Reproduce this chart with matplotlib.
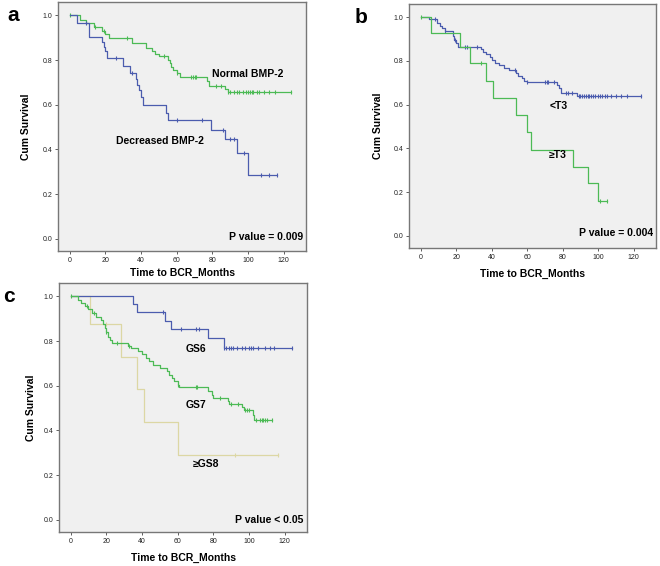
import matplotlib.pyplot as plt
import numpy as np

# panel a: BMP-2 expression
a_norm_t = [0, 6, 9, 13.5, 18, 20, 22, 35, 43, 46, 48, 50, 55, 56, 57, 58, 60, 62, 77, 78, 87, 89, 124]
a_norm_s = [1.0, 0.98, 0.965, 0.95, 0.93, 0.915, 0.898, 0.875, 0.855, 0.84, 0.825, 0.82, 0.8, 0.785,
            0.77, 0.755, 0.74, 0.725, 0.705, 0.685, 0.67, 0.659, 0.659]
a_norm_c = [0, 14, 19, 32, 53, 60, 68, 69, 70, 71, 82, 85, 89, 90, 92, 94, 95, 97, 99, 100, 101,
            102, 103, 105, 106, 109, 112, 115, 124]
a_dec_t = [0, 4, 11, 18, 19, 20, 21, 30, 34, 37, 38, 39, 40, 41, 54, 55, 79, 87, 94, 100, 116]
a_dec_s = [1.0, 0.967, 0.903, 0.88, 0.86, 0.84, 0.808, 0.775, 0.74, 0.715, 0.69, 0.665, 0.635, 0.6,
           0.565, 0.531, 0.488, 0.445, 0.382, 0.286, 0.286]
a_dec_c = [9, 26, 35, 60, 74, 86, 90, 92, 98, 107, 112, 116]

# panel b: T stage
b_lt3_t = [0, 5, 9, 11, 12, 14, 18, 19, 20, 21, 34, 35, 37, 39, 40, 42, 44, 47, 50, 54, 55, 57, 58,
           60, 77, 78, 79, 88, 124]
b_lt3_s = [1.0, 0.99, 0.975, 0.96, 0.95, 0.935, 0.915, 0.895, 0.88, 0.865, 0.855, 0.84, 0.83, 0.82,
           0.805, 0.79, 0.78, 0.77, 0.76, 0.745, 0.73, 0.72, 0.71, 0.705, 0.69, 0.675, 0.655, 0.639, 0.639]
b_lt3_c = [8, 14, 19.5, 25, 26, 32, 53, 60, 70, 71, 72, 75, 82, 83, 85, 89, 90, 91, 92, 93, 94, 95,
           96, 97, 98, 100, 101, 102, 104, 105, 107, 110, 113, 116, 124]
b_ge3_t = [0, 6, 22, 28, 37, 41, 54, 60, 62, 86, 94, 100, 105]
b_ge3_s = [1.0, 0.926, 0.863, 0.789, 0.71, 0.632, 0.553, 0.475, 0.395, 0.317, 0.24, 0.162, 0.162]
b_ge3_c = [0, 34, 101, 105]

# panel c: Gleason score
c_gs6_t = [0, 35, 37, 53, 56, 77, 86, 124]
c_gs6_s = [1.0, 0.964, 0.93, 0.89, 0.855, 0.814, 0.768, 0.768]
c_gs6_c = [52, 62, 70, 72, 86, 87, 89, 90, 91, 93, 96, 98, 100, 101, 102, 105, 109, 112, 114, 124]
c_gs7_t = [0, 4, 6, 8, 10, 12, 14, 17, 18, 19, 20, 21, 22, 23, 32, 34, 38, 40, 42, 44, 46, 50, 54,
           55, 57, 58, 60, 61, 77, 79, 80, 88, 89, 96, 97, 102, 103, 113]
c_gs7_s = [1.0, 0.985, 0.97, 0.955, 0.945, 0.925, 0.91, 0.895, 0.875, 0.86, 0.84, 0.82, 0.805, 0.79,
           0.78, 0.77, 0.755, 0.74, 0.725, 0.71, 0.695, 0.68, 0.665, 0.65, 0.635, 0.62, 0.605, 0.596,
           0.575, 0.56, 0.546, 0.53, 0.52, 0.505, 0.493, 0.47, 0.445, 0.445]
c_gs7_c = [0, 9, 13, 20, 26, 33, 60, 70, 71, 84, 90, 94, 98, 99, 100, 104, 106, 107, 108, 109, 110, 113]
c_gs8_t = [0, 11, 28, 37, 41, 60, 116]
c_gs8_s = [1.0, 0.876, 0.73, 0.585, 0.437, 0.291, 0.291]
c_gs8_c = [20, 92, 116]

BLUE = "#4b5cae"
GREEN = "#4cba55"
TAN = "#dcd7a4"
BG = "#f0f0f0"


def km(ax, t, s, cens, color):
    t = np.asarray(t, dtype=float)
    s = np.asarray(s, dtype=float)
    ax.step(t, s, where="post", color=color, lw=0.9)
    cens = np.asarray(cens, dtype=float)
    idx = np.searchsorted(t, cens, side="right") - 1
    ax.plot(cens, s[idx], ls="none", marker="|", ms=3.5, mew=0.8, color=color)


def style(ax, letter, ylab_x, xlab_y):
    ax.set_facecolor(BG)
    ax.set_xlim(-6.5, 132.5)
    ax.set_ylim(-0.055, 1.06)
    ax.set_xticks(range(0, 121, 20))
    ax.set_yticks(np.arange(0, 1.01, 0.2))
    ax.yaxis.set_major_formatter(plt.FormatStrFormatter("%.1f"))
    ax.tick_params(labelsize=5, length=2.5, width=0.6, pad=1.5, colors="#444444", labelcolor="#222222")
    for sp in ax.spines.values():
        sp.set_color("#777777")
        sp.set_linewidth(1.0)
    ax.set_ylabel("Cum Survival", fontsize=7.5, fontweight="bold")
    ax.set_xlabel("Time to BCR_Months", fontsize=7.5, fontweight="bold")
    ax.yaxis.set_label_coords(ylab_x, 0.5)
    ax.xaxis.set_label_coords(0.5, xlab_y)
    ax.text(-0.2, 1.0, letter, transform=ax.transAxes, fontsize=15, fontweight="bold",
            ha="left", va="top")


fig = plt.figure(figsize=(6.6, 5.66), dpi=100)
plt.rcParams["font.family"] = ["Liberation Sans", "DejaVu Sans"]

ax_a = fig.add_axes([0.0879, 0.5565, 0.3758, 0.44])
ax_b = fig.add_axes([0.6197, 0.5618, 0.3742, 0.431])
ax_c = fig.add_axes([0.0894, 0.06, 0.3758, 0.44])

km(ax_a, a_norm_t, a_norm_s, a_norm_c, GREEN)
km(ax_a, a_dec_t, a_dec_s, a_dec_c, BLUE)
style(ax_a, "a", -0.107, -0.068)
ax_a.texts[-1].set_position((-0.205, 0.985))
ax_a.text(79.6, 0.737, "Normal BMP-2", fontsize=7.5, fontweight="bold", va="center")
ax_a.text(26, 0.437, "Decreased BMP-2", fontsize=7.5, fontweight="bold", va="center")
ax_a.text(130.8, 0.01, "P value = 0.009", fontsize=7.5, fontweight="bold", va="center", ha="right")

km(ax_b, b_lt3_t, b_lt3_s, b_lt3_c, BLUE)
km(ax_b, b_ge3_t, b_ge3_s, b_ge3_c, GREEN)
style(ax_b, "b", -0.105, -0.086)
ax_b.texts[-1].set_position((-0.22, 0.985))
ax_b.text(72.4, 0.595, "<T3", fontsize=7.5, fontweight="bold", va="center")
ax_b.text(72.4, 0.371, "≥T3", fontsize=7.5, fontweight="bold", va="center")
ax_b.text(130.9, 0.013, "P value = 0.004", fontsize=7.5, fontweight="bold", va="center", ha="right")

km(ax_c, c_gs8_t, c_gs8_s, c_gs8_c, TAN)
km(ax_c, c_gs6_t, c_gs6_s, c_gs6_c, BLUE)
km(ax_c, c_gs7_t, c_gs7_s, c_gs7_c, GREEN)
style(ax_c, "c", -0.093, -0.084)
ax_c.texts[-1].set_position((-0.225, 0.985))
ax_c.text(64.6, 0.766, "GS6", fontsize=7.5, fontweight="bold", va="center")
ax_c.text(64.6, 0.513, "GS7", fontsize=7.5, fontweight="bold", va="center")
ax_c.text(68.3, 0.249, "≥GS8", fontsize=7.5, fontweight="bold", va="center")
ax_c.text(130.3, 0.0, "P value < 0.05", fontsize=7.5, fontweight="bold", va="center", ha="right")

fig.savefig("out.png", dpi=100, facecolor="white")
